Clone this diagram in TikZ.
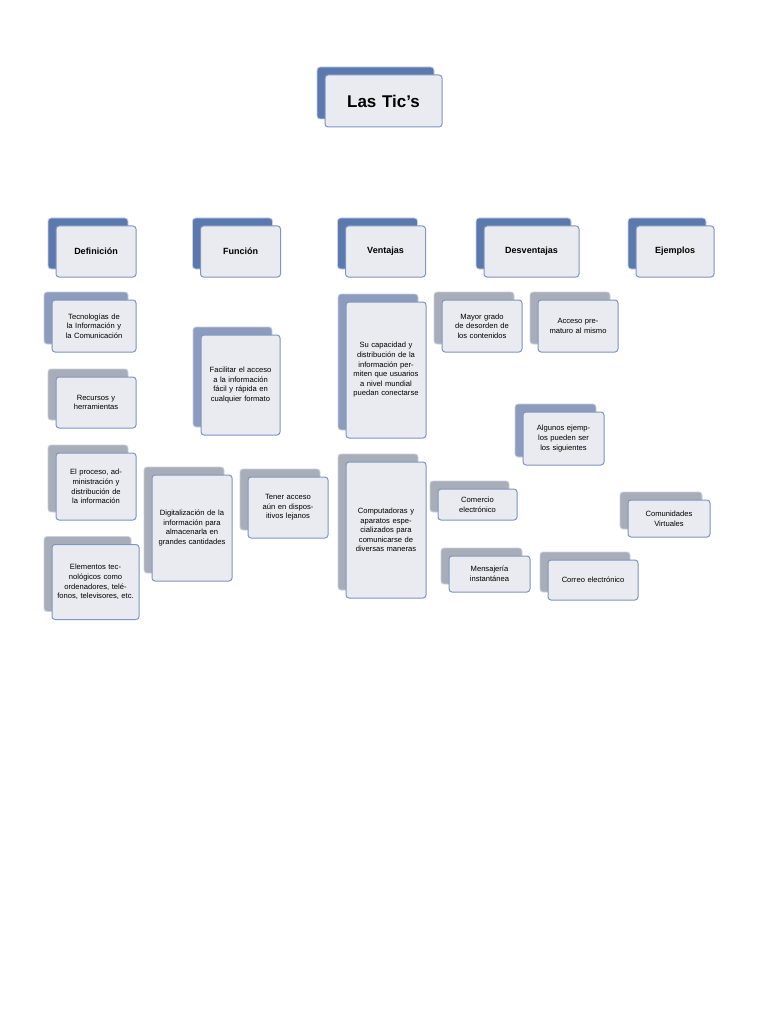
\documentclass[tikz,border=0pt]{standalone}
\usepackage{fontspec}
\setmainfont{Liberation Sans}
\usetikzlibrary{backgrounds}
\definecolor{ticblue}{HTML}{5B79AC}
\definecolor{ticmid}{HTML}{8D9CBC}
\definecolor{ticgray}{HTML}{A9ADB7}
\definecolor{ticfill}{HTML}{E9EBF0}
\definecolor{ticline}{HTML}{7F95C2}
\tikzstyle{link} = [draw=ticline, line width=1.3pt]
\tikzstyle{face} = [draw=ticline, line width=1pt, fill=ticfill, rounded corners=3pt, align=center, inner sep=2pt]
\tikzstyle{shade} = [draw=ticfill!70!ticline, line width=0.8pt, rounded corners=3pt]
% #1 name, #2 back colour, #3 centre, #4 width, #5 height, #6 font, #7 text
\newcommand{\ticbox}[7]{%
  \node[shade, fill=#2, minimum width=#4pt, minimum height=#5pt] (#1b) at ([shift={(-8,-8)}]#3) {};
  \node[face, minimum width=#4pt, minimum height=#5pt, text width=\dimexpr#4pt-10pt\relax, font=#6] (#1) at (#3) {#7};}

\begin{document}
\begin{tikzpicture}[x=1pt,y=-1pt]
        \useasboundingbox (0,0) rectangle (768,1024);
        \fill[white] (0,0) rectangle (768,1024);
        \def\hd{\bfseries\fontsize{9}{11}\selectfont}
        \def\tx{\fontsize{7.6}{9.6}\selectfont}
        \ticbox{root}{ticblue}{383.5,101}{117}{52}{\bfseries\fontsize{17}{20}\selectfont}{Las Tic's}
        \ticbox{def}{ticblue}{96,251.5}{80}{51}{\hd}{Definición}
        \ticbox{fun}{ticblue}{240.5,251.5}{80}{51}{\hd}{Función}
        \ticbox{ven}{ticblue}{385.5,251.5}{80}{51}{\hd}{Ventajas}
        \ticbox{des}{ticblue}{531.5,251.5}{95}{51}{\hd}{Desventajas}
        \ticbox{eje}{ticblue}{675,251.5}{78}{51}{\hd}{Ejemplos}

        \ticbox{tec}{ticmid}{94,326}{84}{52}{\tx}{Tecnologías de la Información y la Comunicación}
        \ticbox{rec}{ticgray}{96,402.5}{80}{51}{\tx}{Recursos y herramientas}
        \ticbox{pro}{ticgray}{96,486.5}{80}{67}{\tx}{El proceso, administración y distribución de la información}
        \ticbox{ele}{ticgray}{95.5,582}{87}{75}{\tx}{Elementos tecnológicos como ordenadores, teléfonos, televisores, etc.}

        \ticbox{fac}{ticmid}{240.5,385}{79}{100}{\tx}{Facilitar el acceso a la información fácil y rápida en cualquier formato}
        \ticbox{dig}{ticgray}{192,528}{80}{106}{\tx}{Digitalización de la información para almacenarla en grandes cantidades}
        \ticbox{ten}{ticgray}{288,507.5}{80}{61}{\tx}{Tener acceso aún en dispositivos lejanos}

        \ticbox{sca}{ticmid}{386,370}{80}{136}{\tx}{Su capacidad y distribución de la información permiten que usuarios a nivel mundial puedan conectarse}
        \ticbox{cmp}{ticgray}{386,530}{80}{136}{\tx}{Computadoras y aparatos especializados para comunicarse de diversas maneras}

        \ticbox{may}{ticgray}{482,326}{80}{52}{\tx}{Mayor grado de desorden de los contenidos}
        \ticbox{acc}{ticgray}{578,326}{80}{52}{\tx}{Acceso prematuro al mismo}

        \ticbox{alg}{ticmid}{563.5,438.5}{81}{53}{\tx}{Algunos ejemplos pueden ser los siguientes}
        \ticbox{ccm}{ticgray}{477.5,504.5}{79}{31}{\tx}{Comercio electrónico}
        \ticbox{cvi}{ticgray}{669,518.5}{82}{37}{\tx}{Comunidades Virtuales}
        \ticbox{men}{ticgray}{489.5,574}{81}{36}{\tx}{Mensajería instantánea}
        \ticbox{cor}{ticgray}{593,580}{90}{40}{\tx}{Correo electrónico}

        \begin{pgfonlayer}{background}
        \foreach \h in {def,fun,ven,des,eje}
          \draw[link] (rootb.south) -- ++(0,91) -| (\h b.north);
        \draw[link] (defb.south) -- (defb.south |- tecb.north);
        \draw[link] (defb.south) -- (defb.south |- eleb.north);
        \draw[link] (funb.south) -- (facb.north);
        \draw[link] (facb.south) -- ++(0,31) -| (digb.north);
        \draw[link] (facb.south) -- ++(0,41) -| (tenb.north);
        \draw[link] (venb.south) -- (scab.north);
        \draw[link] (scab.south) -- (cmpb.north);
        \draw[link] (desb.south) -- ++(0,16) -| (mayb.north);
        \draw[link] (desb.south) -- ++(0,16) -| (accb.north);
        \draw[link] (ejeb.south) -- ++(0,128) -| (algb.north);
        \draw[link] (algb.south) -- ++(0,16) -| (ccmb.north);
        \draw[link] (algb.south) -- ++(0,28) -| (cvib.north);
        \draw[link] (algb.south) -- ++(0,83) -| (menb.north);
        \draw[link] (algb.south) -- ++(0,83) -| (corb.north);
        \end{pgfonlayer}
\end{tikzpicture}
\end{document}
